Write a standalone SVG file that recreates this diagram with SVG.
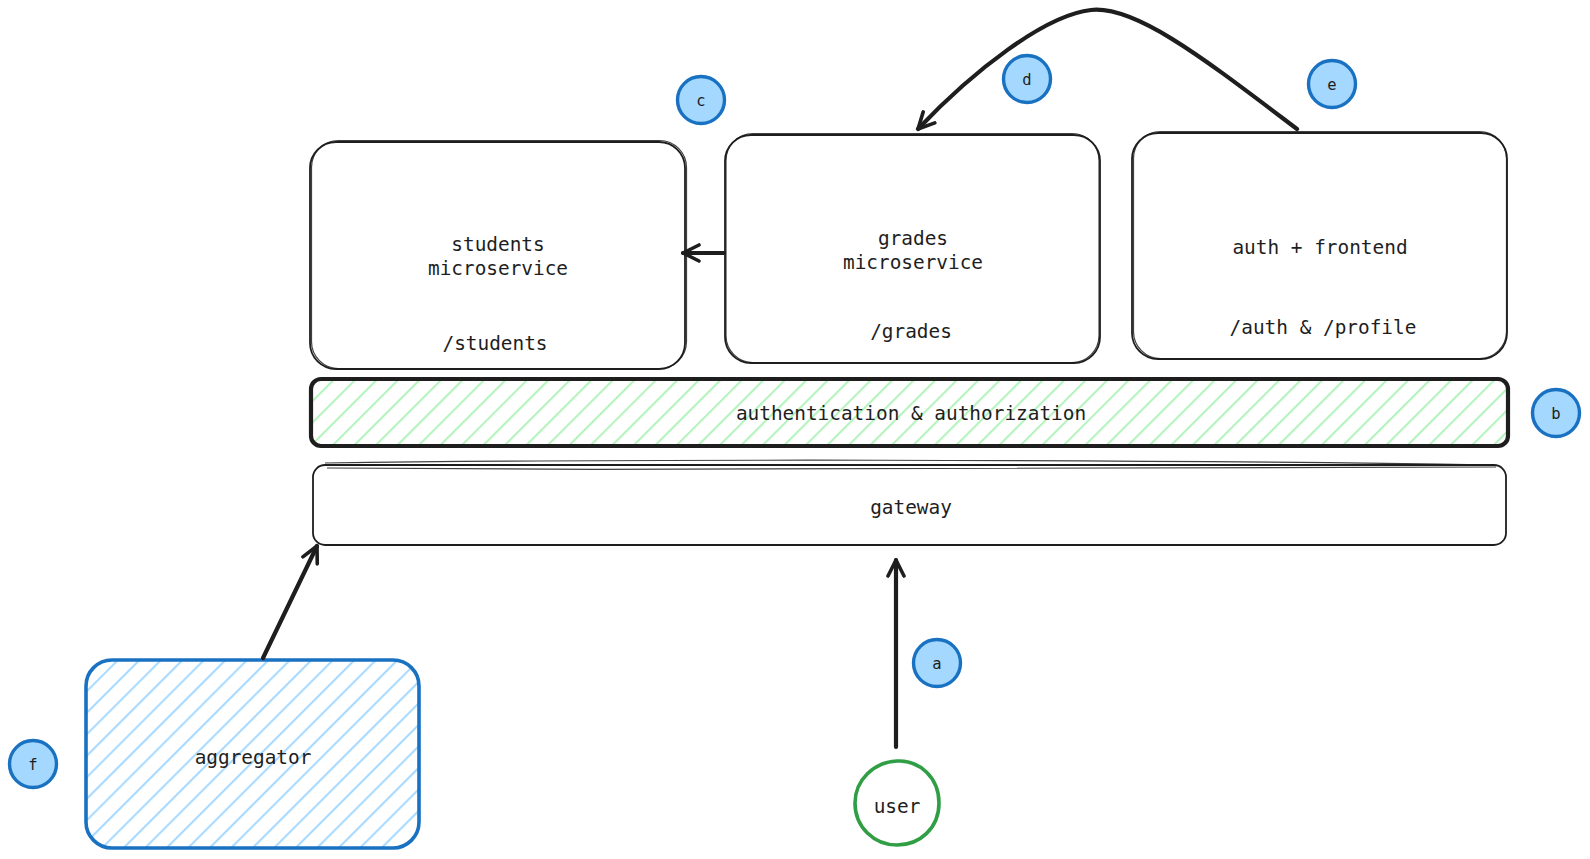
<svg xmlns="http://www.w3.org/2000/svg" width="1590" height="859" viewBox="0 0 1590 859">
<style>
  .box{fill:none;stroke:#1e1e1e;stroke-width:1.8}
  .box2{fill:none;stroke:#1e1e1e;stroke-width:1.2;opacity:0.85}
  .t{font-family:"DejaVu Sans Mono","Liberation Mono",monospace;font-size:19.4px;fill:#1e1e1e;text-anchor:middle;dominant-baseline:central}
  .bt{font-family:"DejaVu Sans Mono","Liberation Mono",monospace;font-size:15.5px;fill:#1e1e1e;text-anchor:middle;dominant-baseline:central}
  .badge{fill:#a5d8ff;stroke:#1971c2;stroke-width:3.4}
  .conn{fill:none;stroke:#1e1e1e;stroke-width:4.2;stroke-linecap:round;stroke-linejoin:round}
</style>
<defs>
  <pattern id="hg" width="15.2" height="15.2" patternUnits="userSpaceOnUse" patternTransform="rotate(45)">
    <line x1="3" y1="0" x2="3" y2="15.2" stroke="#b2f2bb" stroke-width="2"/>
  </pattern>
  <pattern id="hb" width="15.2" height="15.2" patternUnits="userSpaceOnUse" patternTransform="rotate(45)">
    <line x1="3" y1="0" x2="3" y2="15.2" stroke="#a5d8ff" stroke-width="2"/>
  </pattern>
  <marker id="ah" viewBox="0 0 20 20" refX="18" refY="10" markerWidth="20" markerHeight="20" markerUnits="userSpaceOnUse" orient="auto">
    <path d="M2,2 L18,10 L2,18" fill="none" stroke="#1e1e1e" stroke-width="3.6" stroke-linecap="round" stroke-linejoin="round"/>
  </marker>
</defs>
<rect width="1590" height="859" fill="#ffffff"/>

<g id="students">
  <rect class="box" x="310" y="142" width="375" height="227" rx="26"/>
  <rect class="box2" x="311.5" y="140.5" width="375" height="228" rx="27"/>
  <text class="t" x="498" y="244">students</text>
  <text class="t" x="498" y="268">microservice</text>
  <text class="t" x="495" y="343">/students</text>
</g>

<g id="grades">
  <rect class="box" x="725" y="135" width="375" height="228" rx="26"/>
  <rect class="box2" x="726" y="133.5" width="373" height="229" rx="27"/>
  <text class="t" x="913" y="238">grades</text>
  <text class="t" x="913" y="262">microservice</text>
  <text class="t" x="911" y="331">/grades</text>
</g>

<g id="auth-frontend">
  <rect class="box" x="1132" y="133" width="375" height="226" rx="26"/>
  <rect class="box2" x="1133.5" y="131.5" width="373" height="227" rx="27"/>
  <text class="t" x="1320" y="247">auth + frontend</text>
  <text class="t" x="1323" y="327">/auth &amp; /profile</text>
</g>

<g id="authn-authz">
  <rect x="311" y="379" width="1197" height="67" rx="10" fill="url(#hg)" stroke="#1e1e1e" stroke-width="4.2"/>
  <text class="t" x="911" y="413">authentication &amp; authorization</text>
</g>

<g id="gateway">
  <rect class="box" x="313" y="465" width="1193" height="80" rx="12"/>
  <path class="box2" d="M325,463 C620,459 1120,459 1494,465"/>
  <path class="box2" d="M327,468 C720,471 1120,469 1496,467"/>
  <text class="t" x="911" y="507">gateway</text>
</g>

<g id="aggregator">
  <rect x="86" y="660" width="333" height="188" rx="26" fill="url(#hb)" stroke="#1971c2" stroke-width="3.6"/>
  <text class="t" x="253" y="757">aggregator</text>
</g>

<g id="user">
  <path d="M897,761 C920,760 939,778 939,803 C939,828 920,845 897,845 C874,845 855,827 855,803 C855,780 874,762 897,761 Z" fill="none" stroke="#2f9e44" stroke-width="3.6"/>
  <text class="t" x="897" y="806">user</text>
</g>

<g id="badge-a"><circle class="badge" cx="937" cy="663" r="23.5"/><text class="bt" x="937" y="664">a</text></g>
<g id="badge-b"><circle class="badge" cx="1556" cy="413" r="23.5"/><text class="bt" x="1556" y="414">b</text></g>
<g id="badge-c"><circle class="badge" cx="701" cy="100" r="23.5"/><text class="bt" x="701" y="101">c</text></g>
<g id="badge-d"><circle class="badge" cx="1027" cy="79" r="23.5"/><text class="bt" x="1027" y="80">d</text></g>
<g id="badge-e"><circle class="badge" cx="1332" cy="84" r="23.5"/><text class="bt" x="1332" y="85">e</text></g>
<g id="badge-f"><circle class="badge" cx="33" cy="764" r="23.5"/><text class="bt" x="33" y="765">f</text></g>

<g id="connectors">
  <line class="conn" x1="896" y1="747" x2="896" y2="560" marker-end="url(#ah)"/>
  <line class="conn" x1="263" y1="658" x2="317" y2="546" marker-end="url(#ah)"/>
  <line class="conn" x1="724" y1="253" x2="683" y2="253" marker-end="url(#ah)"/>
  <path class="conn" d="M1297,129 C1207,61 1136,5 1091,10 C1045,15 973,71 918,129" marker-end="url(#ah)"/>
</g>
</svg>
